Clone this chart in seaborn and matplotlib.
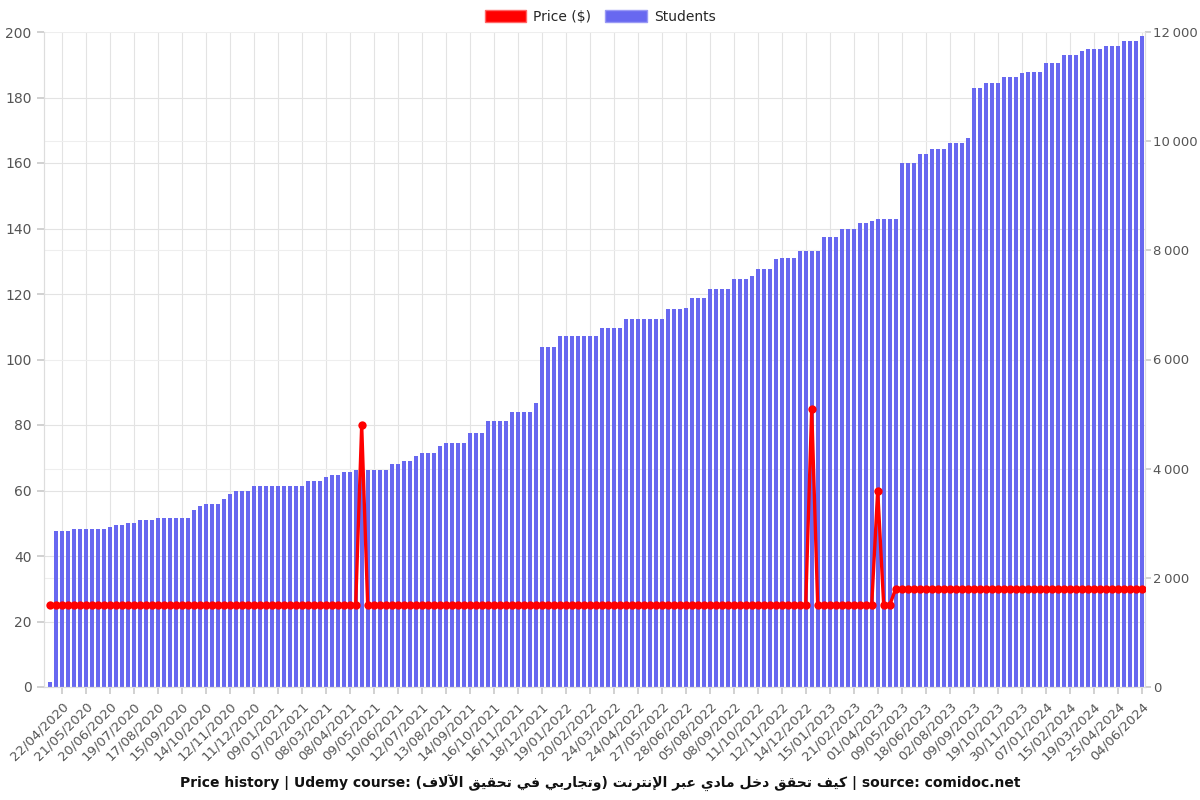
import numpy as np
import pandas as pd
import matplotlib
matplotlib.use("Agg")
import matplotlib.pyplot as plt
from matplotlib.patches import Patch
from matplotlib.ticker import FuncFormatter, FixedLocator, MultipleLocator
import seaborn as sns

# ---------------- data ----------------
tick_labels = [
    "22/04/2020", "21/05/2020", "20/06/2020", "19/07/2020", "17/08/2020", "15/09/2020",
    "14/10/2020", "12/11/2020", "11/12/2020", "09/01/2021", "07/02/2021", "08/03/2021",
    "08/04/2021", "09/05/2021", "10/06/2021", "12/07/2021", "13/08/2021", "14/09/2021",
    "16/10/2021", "16/11/2021", "18/12/2021", "19/01/2022", "20/02/2022", "24/03/2022",
    "24/04/2022", "27/05/2022", "28/06/2022", "05/08/2022", "08/09/2022", "11/10/2022",
    "12/11/2022", "14/12/2022", "15/01/2023", "21/02/2023", "01/04/2023", "09/05/2023",
    "18/06/2023", "02/08/2023", "09/09/2023", "19/10/2023", "30/11/2023", "07/01/2024",
    "15/02/2024", "19/03/2024", "25/04/2024", "04/06/2024",
]

students = [
    90,
    2860, 2860, 2860, 2890, 2900, 2900, 2900, 2900, 2900,
    2925, 2970, 2970, 3005, 3005, 3055, 3055, 3055, 3090, 3090,
    3090, 3090, 3090, 3090, 3245, 3315, 3345, 3345, 3345, 3450,
    3535, 3590, 3590, 3590, 3682, 3682, 3682, 3682, 3682, 3682,
    3682, 3682, 3682, 3774, 3774, 3774, 3841, 3880, 3880, 3930,
    3930, 3975, 3975, 3975, 3975, 3975, 3975, 4080, 4091, 4137,
    4137, 4232, 4284, 4284, 4284, 4415, 4476, 4476, 4476, 4476,
    4647, 4647, 4647, 4867, 4867, 4867, 4867, 5032, 5032, 5032,
    5032, 5197, 6229, 6229, 6229, 6430, 6430, 6430, 6430, 6430,
    6430, 6430, 6577, 6577, 6577, 6577, 6736, 6736, 6736, 6736,
    6736, 6736, 6736, 6919, 6919, 6919, 6937, 7133, 7133, 7133,
    7286, 7286, 7286, 7286, 7469, 7469, 7469, 7524, 7664, 7664,
    7664, 7836, 7860, 7860, 7860, 7994, 7994, 7994, 7994, 8238,
    8238, 8238, 8391, 8391, 8391, 8501, 8501, 8537, 8568, 8568,
    8568, 8568, 9600, 9600, 9600, 9759, 9759, 9862, 9862, 9862,
    9966, 9966, 9966, 10058, 10980, 10980, 11070, 11070, 11070, 11170,
    11170, 11170, 11243, 11267, 11267, 11267, 11432, 11432, 11432, 11578,
    11578, 11578, 11657, 11688, 11688, 11688, 11743, 11743, 11743, 11841,
    11841, 11841, 11926,
]

price = [
    25, 25, 25, 25, 25, 25, 25, 25, 25, 25,
    25, 25, 25, 25, 25, 25, 25, 25, 25, 25,
    25, 25, 25, 25, 25, 25, 25, 25, 25, 25,
    25, 25, 25, 25, 25, 25, 25, 25, 25, 25,
    25, 25, 25, 25, 25, 25, 25, 25, 25, 25,
    25, 25, 80, 25, 25, 25, 25, 25, 25, 25,
    25, 25, 25, 25, 25, 25, 25, 25, 25, 25,
    25, 25, 25, 25, 25, 25, 25, 25, 25, 25,
    25, 25, 25, 25, 25, 25, 25, 25, 25, 25,
    25, 25, 25, 25, 25, 25, 25, 25, 25, 25,
    25, 25, 25, 25, 25, 25, 25, 25, 25, 25,
    25, 25, 25, 25, 25, 25, 25, 25, 25, 25,
    25, 25, 25, 25, 25, 25, 25, 85, 25, 25,
    25, 25, 25, 25, 25, 25, 25, 25, 60, 25,
    25, 30, 30, 30, 30, 30, 30, 30, 30, 30,
    30, 30, 30, 30, 30, 30, 30, 30, 30, 30,
    30, 30, 30, 30, 30, 30, 30, 30, 30, 30,
    30, 30, 30, 30, 30, 30, 30, 30, 30, 30,
    30, 30, 30,
]

title_prefix = "Price history | Udemy course: "
course_name = "كيف تحقق دخل مادي عبر الإنترنت (وتجاربي في تحقيق الآلاف)"
title_suffix = " | source: comidoc.net"

# ------------- Arabic shaping for display (matplotlib has no bidi/shaping) -------------
AR_FORMS = {
    "\u0627": ("\uFE8D", "\uFE8E", None, None),
    "\u0622": ("\uFE81", "\uFE82", None, None),
    "\u0623": ("\uFE83", "\uFE84", None, None),
    "\u0625": ("\uFE87", "\uFE88", None, None),
    "\u0628": ("\uFE8F", "\uFE90", "\uFE91", "\uFE92"),
    "\u062A": ("\uFE95", "\uFE96", "\uFE97", "\uFE98"),
    "\u062C": ("\uFE9D", "\uFE9E", "\uFE9F", "\uFEA0"),
    "\u062D": ("\uFEA1", "\uFEA2", "\uFEA3", "\uFEA4"),
    "\u062E": ("\uFEA5", "\uFEA6", "\uFEA7", "\uFEA8"),
    "\u062F": ("\uFEA9", "\uFEAA", None, None),
    "\u0631": ("\uFEAD", "\uFEAE", None, None),
    "\u0639": ("\uFEC9", "\uFECA", "\uFECB", "\uFECC"),
    "\u0641": ("\uFED1", "\uFED2", "\uFED3", "\uFED4"),
    "\u0642": ("\uFED5", "\uFED6", "\uFED7", "\uFED8"),
    "\u0643": ("\uFED9", "\uFEDA", "\uFEDB", "\uFEDC"),
    "\u0644": ("\uFEDD", "\uFEDE", "\uFEDF", "\uFEE0"),
    "\u0645": ("\uFEE1", "\uFEE2", "\uFEE3", "\uFEE4"),
    "\u0646": ("\uFEE5", "\uFEE6", "\uFEE7", "\uFEE8"),
    "\u0648": ("\uFEED", "\uFEEE", None, None),
    "\u064A": ("\uFEF1", "\uFEF2", "\uFEF3", "\uFEF4"),
}
LAM_ALEF = {
    "\u0622": ("\uFEF5", "\uFEF6"),
    "\u0623": ("\uFEF7", "\uFEF8"),
    "\u0625": ("\uFEF9", "\uFEFA"),
    "\u0627": ("\uFEFB", "\uFEFC"),
}


def shape_arabic(text):
    out = []
    i, n = 0, len(text)
    while i < n:
        c = text[i]
        if c not in AR_FORMS:
            out.append(c)
            i += 1
            continue
        prev = text[i - 1] if i > 0 else None
        jp = prev is not None and prev in AR_FORMS and AR_FORMS[prev][2] is not None
        if c == "\u0644" and i + 1 < n and text[i + 1] in LAM_ALEF:
            out.append(LAM_ALEF[text[i + 1]][1 if jp else 0])
            i += 2
            continue
        nxt = text[i + 1] if i + 1 < n else None
        iso, fin, ini, med = AR_FORMS[c]
        jn = ini is not None and nxt is not None and nxt in AR_FORMS
        if jp and jn:
            g = med
        elif jp:
            g = fin
        elif jn:
            g = ini
        else:
            g = iso
        out.append(g)
        i += 1
    return "".join(out)


def visual_rtl(text):
    shaped = shape_arabic(text)[::-1]
    swap = {"(": ")", ")": "("}
    return "".join(swap.get(ch, ch) for ch in shaped)


title_text = title_prefix + visual_rtl(course_name) + title_suffix

# ---------------- figure ----------------
sns.set_theme(style="white")
plt.rcParams["font.family"] = ["DejaVu Sans"]

BAR_COLOR = "#6868F0"
RED = "#FF0000"
GRID = "#e3e3e3"
TXT = "#555555"

df = pd.DataFrame({"idx": np.arange(len(students)), "students": students, "price": price})

fig = plt.figure(figsize=(12, 8), dpi=100)
ax = fig.add_axes([43.5 / 1200, 113 / 800, (1145 - 43.5) / 1200, 655 / 800])

sns.barplot(data=df, x="idx", y="students", color=BAR_COLOR, saturation=1,
            width=0.68, linewidth=0, ax=ax, zorder=2)
ax.set_ylim(0, 12000)
ax.set_xlim(-1.03, len(students) - 0.45)

# price axis, drawn on top
ax2 = ax.twinx()
sns.lineplot(data=df, x="idx", y="price", color=RED, linewidth=2.4, marker="o",
             markersize=6, markeredgewidth=0, ax=ax2, zorder=5)
ax2.set_ylim(0, 200)
ax2.yaxis.tick_left()
ax2.yaxis.set_label_position("left")
ax2.yaxis.set_major_locator(MultipleLocator(20))
ax2.set_xlim(ax.get_xlim())
ax2.patch.set_visible(False)
ax2.grid(False)

# students axis on the right (after twinx, which resets it to the left)
ax.yaxis.tick_right()
ax.yaxis.set_label_position("right")
ax.yaxis.set_major_locator(MultipleLocator(2000))
ax.yaxis.set_major_formatter(FuncFormatter(lambda v, p: f"{int(v):,}".replace(",", "\u2009")))

# grids on the bar axis (below the bars): price grid as minor lines scaled to the student axis
scale = 12000 / 200
ax.yaxis.set_minor_locator(FixedLocator([v * scale for v in range(0, 201, 20)]))
ax.grid(True, which="major", axis="y", color="#eeeeee", linewidth=0.8, zorder=0)
ax.grid(True, which="minor", axis="y", color=GRID, linewidth=0.8, zorder=0)
tick_pos = list(range(2, len(students), 4))
ax.set_xticks(tick_pos)
ax.set_xticklabels(tick_labels, rotation=45, ha="right", rotation_mode="anchor",
                   fontsize=9.5, color=TXT)
ax.grid(True, which="major", axis="x", color=GRID, linewidth=0.8, zorder=0)
ax.set_axisbelow(True)

ax.tick_params(axis="x", which="major", length=5, color="#cccccc", bottom=True, pad=4)
ax.tick_params(axis="y", which="major", length=4, color="#cccccc", right=True, left=False,
               labelright=True, labelleft=False, labelsize=9.5, labelcolor=TXT, pad=2)
ax.tick_params(axis="y", which="minor", length=0, left=False, right=False)
ax2.tick_params(axis="y", length=5, color="#cccccc", left=True, right=False,
                labelleft=True, labelright=False, labelsize=10, labelcolor=TXT)

for a in (ax, ax2):
    a.set_xlabel("")
    a.set_ylabel("")
    for s in a.spines.values():
        s.set_color("#dddddd")
        s.set_linewidth(0.8)
ax2.spines["top"].set_visible(False)
ax.spines["top"].set_visible(False)

handles = [Patch(facecolor=RED, edgecolor="#ff6666", label="Price ($)"),
           Patch(facecolor=BAR_COLOR, edgecolor="#9a9af5", label="Students")]
fig.legend(handles=handles, loc="upper center", bbox_to_anchor=(0.5, 1.0), ncol=2,
           frameon=False, fontsize=10, handlelength=3.0, handleheight=1.0,
           columnspacing=1.0, handletextpad=0.5, borderaxespad=0.3)

fig.text(0.5, 1 - 783 / 800, title_text, ha="center", va="center", fontsize=10,
         fontweight="bold", color="#111111", family=["DejaVu Sans"])

fig.savefig("out.png", dpi=100)
